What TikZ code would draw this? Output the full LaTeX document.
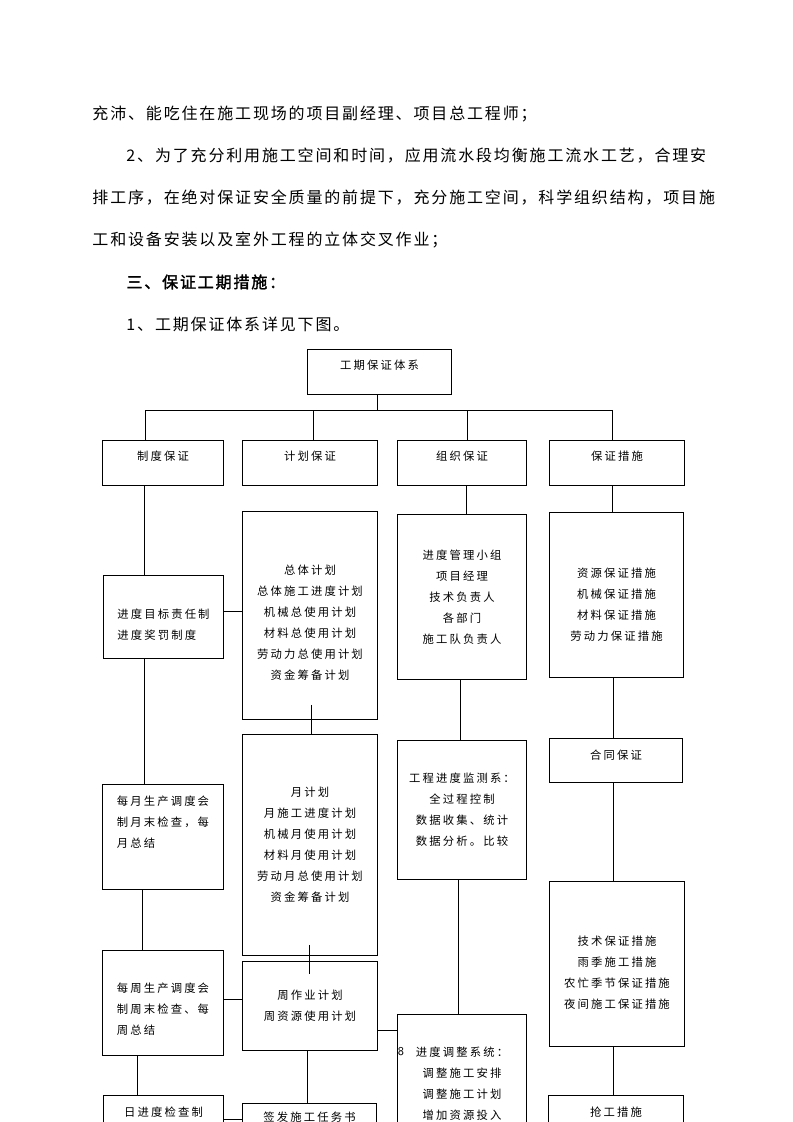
\documentclass[tikz,border=0pt]{standalone}
\usepackage{fontspec}
\setmainfont{Noto Sans CJK SC}[AutoFakeBold=2]
\newfontfamily\bodyfont{Noto Sans CJK SC}[LetterSpace=11.5,AutoFakeBold=2]
\newfontfamily\boxfont{Noto Sans CJK SC}[LetterSpace=19]
\newcommand\padtop[1]{\rule{0pt}{#1}}
\newcommand\padbot[1]{\rule[-#1]{0pt}{0pt}}

\begin{document}
\begin{tikzpicture}[
			x=0.75pt, y=-0.75pt,
			line width=0.7pt,
			box/.style={
					draw,
					inner sep=0pt,
					align=center,
					anchor=north west,
					font=\boxfont\fontsize{8.5}{15.75}\selectfont
				},
			para/.style={
					anchor=west,
					inner sep=0pt,
					font=\bodyfont\fontsize{12}{14}\selectfont
				}
		]

		\useasboundingbox (0,0) rectangle (793,1122);
		\clip (0,0) rectangle (793,1122);

		\node (p1) [para] at (92,114) {充沛、能吃住在施工现场的项目副经理、项目总工程师；};
		\node (p2) [para] at (126,156) {2、为了充分利用施工空间和时间，应用流水段均衡施工流水工艺，合理安};
		\node (p3) [para] at (92,198) {排工序，在绝对保证安全质量的前提下，充分施工空间，科学组织结构，项目施};
		\node (p4) [para] at (92,240) {工和设备安装以及室外工程的立体交叉作业；};
		\node (p5) [para] at (126,282) {\bfseries 三、保证工期措施：};
		\node (p6) [para] at (126,324) {1、工期保证体系详见下图。};

		\node (title) [box, minimum width=108pt, minimum height=33.75pt] at (307,349)
		{工期保证体系\padbot{10.5pt}};

		\node (zhidu) [box, minimum width=90.75pt, minimum height=33.75pt] at (102,440)
		{制度保证\padbot{10.5pt}};
		\node (jihua) [box, minimum width=101.25pt, minimum height=33.75pt] at (242,440)
		{计划保证\padbot{10.5pt}};
		\node (zuzhi) [box, minimum width=96.75pt, minimum height=33.75pt] at (397,440)
		{组织保证\padbot{10.5pt}};
		\node (cuoshi) [box, minimum width=101.25pt, minimum height=33.75pt] at (549,440)
		{保证措施\padbot{10.5pt}};

		\node (mubiao) [box, align=left, minimum width=90pt, minimum height=62.25pt] at (103,575)
		{\padtop{18.25pt}进度目标责任制\\进度奖罚制度};
		\node (meiyue) [box, align=left, minimum width=90.75pt, minimum height=78.75pt] at (102,784)
		{每月生产调度会\\制月末检查，每\\月总结\padbot{22.5pt}};
		\node (meizhou) [box, align=left, minimum width=90.75pt, minimum height=78.75pt] at (102,950)
		{\padtop{16.75pt}每周生产调度会\\制周末检查、每\\周总结};
		\node (rijindu) [box, minimum width=90pt, minimum height=25.5pt] at (103,1095)
		{日进度检查制};

		\node (zongti) [box, minimum width=101.25pt, minimum height=156pt] at (242,511)
		{\padtop{17.5pt}总体计划\\总体施工进度计划\\机械总使用计划\\材料总使用计划\\劳动力总使用计划\\资金筹备计划};
		\node (yue) [box, minimum width=101.25pt, minimum height=165.75pt] at (242,734)
		{月计划\\月施工进度计划\\机械月使用计划\\材料月使用计划\\劳动月总使用计划\\资金筹备计划};
		\node (zhou) [box, minimum width=101.25pt, minimum height=66.75pt] at (242,961)
		{周作业计划\\周资源使用计划};
		\node (qianfa) [box, minimum width=100.5pt, minimum height=21pt] at (242,1103)
		{签发施工任务书};

		\node (xiaozu) [box, minimum width=96.75pt, minimum height=123.75pt] at (397,514)
		{进度管理小组\\项目经理\\技术负责人\\各部门\\施工队负责人};
		\node (jiance) [box, minimum width=96.75pt, minimum height=104.25pt] at (397,740)
		{工程进度监测系：\\全过程控制\\数据收集、统计\\数据分析。比较};
		\node (tiaozheng) [box, minimum width=96.75pt, minimum height=104.25pt] at (397,1014)
		{进度调整系统：\\调整施工安排\\调整施工计划\\增加资源投入};
		\node (eight) [inner sep=0pt, font=\sffamily\fontsize{9}{9}\selectfont] at (401,1052) {8};

		\node (ziyuan) [box, minimum width=100.5pt, minimum height=123.75pt] at (549,512)
		{\padtop{22pt}资源保证措施\\机械保证措施\\材料保证措施\\劳动力保证措施};
		\node (hetong) [box, minimum width=99.75pt, minimum height=33pt] at (549,738)
		{合同保证\padbot{8.3pt}};
		\node (jishu) [box, minimum width=101.25pt, minimum height=123.75pt] at (549,881)
		{\padtop{20.5pt}技术保证措施\\雨季施工措施\\农忙季节保证措施\\夜间施工保证措施};
		\node (qianggong) [box, minimum width=101.25pt, minimum height=25.5pt] at (548,1095)
		{抢工措施};

		\coordinate (bus) at ([shift={(-2.5,16)}]title.south);
		\draw ([shift={(-2.5,0)}]title.south) -- (bus);
		\draw ([shift={(-17.5,0)}]zhidu.north) |- (bus) -| ([shift={(-4.5,0)}]cuoshi.north);
		\draw ([shift={(3.5,0)}]jihua.north) |- (bus);
		\draw ([shift={(5.5,0)}]zuzhi.north) |- (bus);

		\draw ([shift={(-18.5,0)}]zhidu.south) |- (mubiao.north);
		\draw ([shift={(-19.5,0)}]mubiao.south) |- (meiyue.north);
		\draw ([shift={(-21,0)}]meiyue.south) |- (meizhou.north);
		\draw ([shift={(-25.5,0)}]meizhou.south) |- (rijindu.north);
		\draw ([shift={(0,-5.5)}]mubiao.east) -| (zongti.west);
		\draw ([shift={(0,-3.5)}]meizhou.east) -| (zhou.west);
		\draw ([shift={(0,7)}]rijindu.east) -| (qianfa.west);

		\draw ([shift={(1.5,-15)}]zongti.south) |- (yue.north);
		\draw ([shift={(-0.5,-11)}]yue.south) -- ([shift={(-0.5,13)}]zhou.north);
		\draw ([shift={(-2.5,0)}]zhou.south) |- (qianfa.north);
		\draw ([shift={(0,24.5)}]zhou.east) -| (tiaozheng.west);

		\draw ([shift={(4.5,0)}]zuzhi.south) |- (xiaozu.north);
		\draw ([shift={(-1.5,0)}]xiaozu.south) |- (jiance.north);
		\draw ([shift={(-3.5,0)}]jiance.south) |- (tiaozheng.north);

		\draw ([shift={(-4.5,0)}]cuoshi.south) |- (ziyuan.north);
		\draw ([shift={(-3,0)}]ziyuan.south) |- (hetong.north);
		\draw ([shift={(-2.5,0)}]hetong.south) |- (jishu.north);
		\draw ([shift={(-3.5,0)}]jishu.south) |- (qianggong.north);

	\end{tikzpicture}
\end{document}
